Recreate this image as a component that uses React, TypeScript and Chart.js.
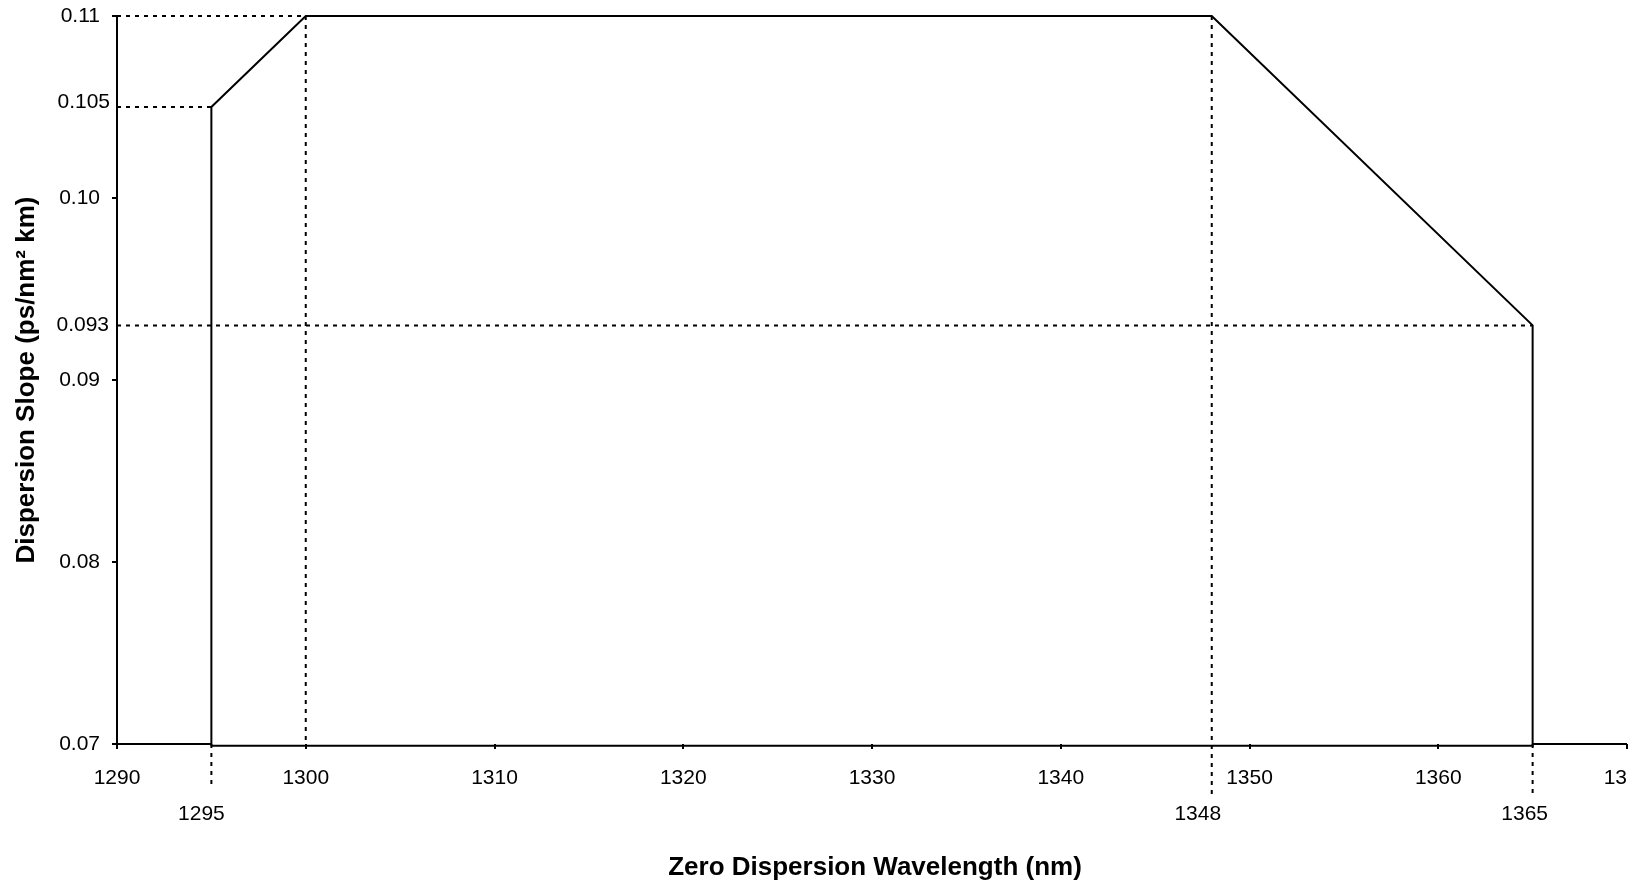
import React, { useEffect, useRef } from "react";
import { Chart, registerables } from "chart.js";

Chart.register(...registerables);

// Main dispersion-slope envelope (nm, ps/nm²·km)
const profileX = [1295, 1295, 1300, 1348, 1365, 1365, 1295];
const profileY = [0.0699, 0.105, 0.11, 0.11, 0.093, 0.0699, 0.0699];

// Baseline segments outside the envelope
const baseLeftX = [1290, 1295];
const baseRightX = [1365, 1370];
const baseY = [0.07, 0.07];

// Dotted guide lines
const guideHY = [0.11, 0.105, 0.093];
const guideHStartX = [1290, 1290, 1290];
const guideHEndX = [1300, 1295, 1365];
const guideVX = [1295, 1300, 1348, 1365];
const guideVFromY = [0.07, 0.11, 0.11, 0.07];
const guideVToY = [0.0677, 0.07, 0.0671, 0.0671];

// Axis ticks
const xTickValues = [1290, 1300, 1310, 1320, 1330, 1340, 1350, 1360, 1370];
const xTickLabels = ["1290", "1300", "1310", "1320", "1330", "1340", "1350", "1360", "13    "];
const yTickValues = [0.07, 0.08, 0.09, 0.1, 0.11];
const yTickLabels = ["0.07", "0.08", "0.09", "0.10", "0.11"];

// Annotation labels
const xMarkValues = [1295, 1348, 1365];
const xMarkLabels = ["1295", "1348", "1365"];
const yMarkValues = [0.105, 0.093];
const yMarkLabels = ["0.105", "0.093"];

const xTitle = "Zero Dispersion Wavelength (nm)";
const yTitle = "Dispersion Slope (ps/nm² km)";

const FONT = '"Liberation Sans", Arial, Helvetica, sans-serif';
const xMarkShift = [-10, -14, -8];

const textPlugin = {
  id: "annotText",
  afterDraw(chart: any) {
    const { ctx, scales, chartArea } = chart;
    const x = scales.x;
    const y = scales.y;
    ctx.save();
    ctx.fillStyle = "#000";
    ctx.font = `21px ${FONT}`;
    // x annotation labels
    ctx.textAlign = "center";
    ctx.textBaseline = "middle";
    xMarkValues.forEach((v, i) => {
      ctx.fillText(xMarkLabels[i], x.getPixelForValue(v) + xMarkShift[i], 814);
    });
    // y annotation labels
    ctx.textAlign = "right";
    yMarkValues.forEach((v, i) => {
      const py = y.getPixelForValue(v);
      if (i === 0) {
        ctx.textBaseline = "alphabetic";
        ctx.fillText(yMarkLabels[i], chartArea.left - 7, py + 1);
      } else {
        ctx.textBaseline = "middle";
        ctx.fillText(yMarkLabels[i], chartArea.left - 8, py);
      }
    });
    // x title
    ctx.font = `bold 26px ${FONT}`;
    ctx.textAlign = "center";
    ctx.textBaseline = "middle";
    ctx.fillText(xTitle, (chartArea.left + chartArea.right) / 2 + 3, 868);
    // y title
    ctx.save();
    ctx.translate(27, (chartArea.top + chartArea.bottom) / 2);
    ctx.rotate(-Math.PI / 2);
    ctx.fillText(yTitle, 0, 0);
    ctx.restore();
    ctx.restore();
  },
};

function seg(xs: number[], ys: number[]) {
  return xs.map((v, i) => ({ x: v, y: ys[i] }));
}

export default function App() {
  const ref = useRef<HTMLCanvasElement>(null);

  useEffect(() => {
    const canvas = ref.current;
    if (!canvas) return;
    document.body.style.margin = "0";

    const lineBase = {
      showLine: true,
      pointRadius: 0,
      pointHoverRadius: 0,
      borderColor: "#000",
      backgroundColor: "#000",
      fill: false,
      tension: 0,
      borderJoinStyle: "miter" as const,
      clip: false as any,
    };

    const datasets: any[] = [];
    guideHY.forEach((yv, i) => {
      datasets.push({
        ...lineBase,
        data: seg([guideHStartX[i], guideHEndX[i]], [yv, yv]),
        borderWidth: 2,
        borderDash: [4, 5],
        order: 2,
      });
    });
    guideVX.forEach((xv, i) => {
      datasets.push({
        ...lineBase,
        data: seg([xv, xv], [guideVFromY[i], guideVToY[i]]),
        borderWidth: 2,
        borderDash: [4, 5],
        order: 2,
      });
    });
    datasets.push({ ...lineBase, data: seg(baseLeftX, baseY), borderWidth: 2, order: 1 });
    datasets.push({ ...lineBase, data: seg(baseRightX, baseY), borderWidth: 2, order: 1 });
    datasets.push({ ...lineBase, data: seg(profileX, profileY), borderWidth: 2, order: 0 });

    const chart = new Chart(canvas, {
      type: "scatter",
      data: { datasets },
      options: {
        animation: false,
        responsive: false,
        devicePixelRatio: 1,
        layout: { padding: 0 },
        plugins: {
          legend: { display: false },
          tooltip: { enabled: false },
          title: { display: false },
        },
        scales: {
          x: {
            type: "linear",
            min: 1290,
            max: 1370,
            afterFit: (s: any) => {
              s.height = 143;
              s.paddingLeft = 0;
              s.paddingRight = 14;
            },
            afterBuildTicks: (s: any) => {
              s.ticks = xTickValues.map((v) => ({ value: v }));
            },
            ticks: {
              autoSkip: false,
              maxRotation: 0,
              padding: 17,
              color: "#000",
              font: { family: FONT, size: 21 },
              callback: (_v: any, i: number) => xTickLabels[i],
            },
            grid: {
              drawOnChartArea: false,
              drawTicks: true,
              tickLength: 5,
              color: "#000",
              lineWidth: 2,
            },
            border: { display: false },
          },
          y: {
            type: "linear",
            min: 0.07,
            max: 0.11,
            afterFit: (s: any) => {
              s.width = 117;
              s.paddingTop = 16;
              s.paddingBottom = 0;
            },
            afterBuildTicks: (s: any) => {
              s.ticks = yTickValues.map((v) => ({ value: v }));
            },
            ticks: {
              padding: 12,
              color: "#000",
              font: { family: FONT, size: 21 },
              callback: (_v: any, i: number) => yTickLabels[i],
            },
            grid: {
              drawOnChartArea: false,
              drawTicks: true,
              tickLength: 5,
              color: "#000",
              lineWidth: 2,
            },
            border: { display: true, color: "#000", width: 2 },
          },
        },
      },
      plugins: [textPlugin],
    });

    return () => {
      chart.destroy();
    };
  }, []);

  return (
    <div style={{ position: "absolute", left: 0, top: 0, width: 1641, height: 887, background: "#fff" }}>
      <canvas ref={ref} width={1641} height={887} style={{ display: "block" }} />
    </div>
  );
}
